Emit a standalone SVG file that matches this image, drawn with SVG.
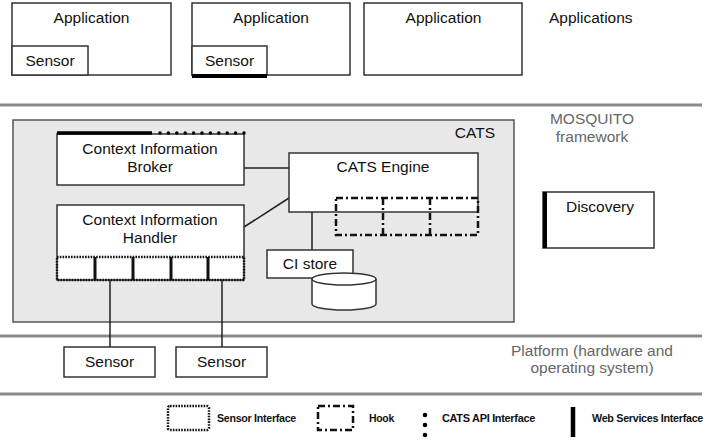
<svg xmlns="http://www.w3.org/2000/svg" width="707" height="442" viewBox="0 0 707 442">
<style>
text{font-family:"Liberation Sans",Arial,sans-serif;font-size:15.5px;fill:#111}
.box{fill:#fff;stroke:#333;stroke-width:1.5}
.sep{stroke:#8a8a8a;stroke-width:3}
.gray{fill:#666}
.mid{text-anchor:middle}
.leg{font-size:11px;font-weight:bold;letter-spacing:-0.3px}
.hook{fill:none;stroke:#111;stroke-width:2.5;stroke-dasharray:7,3,2,3}
.sif{fill:none;stroke:#111;stroke-width:2.5;stroke-dasharray:1.6,1.2}
.conn{stroke:#222;stroke-width:1.5;fill:none}
</style>
<rect width="707" height="442" fill="#fff"/>
<!-- layer separators -->
<line class="sep" x1="0" y1="105" x2="702" y2="105"/>
<line class="sep" x1="0" y1="336" x2="702" y2="336"/>
<line class="sep" x1="0" y1="394" x2="702" y2="394"/>
<text x="549" y="23" fill="#222">Applications</text>
<text class="gray mid" x="592" y="124">MOSQUITO</text>
<text class="gray mid" x="592" y="142">framework</text>
<text class="gray mid" x="592" y="356">Platform (hardware and</text>
<text class="gray mid" x="592" y="373">operating system)</text>

<g id="app1">
<rect class="box" x="12" y="3" width="159" height="72"/>
<text class="mid" x="91.5" y="23">Application</text>
<rect class="box" x="12" y="46" width="76" height="29"/>
<text class="mid" x="50" y="66">Sensor</text>
</g>
<g id="app2">
<rect class="box" x="192" y="3" width="158" height="72"/>
<text class="mid" x="271" y="23">Application</text>
<rect class="box" x="192" y="46" width="75" height="29"/>
<line x1="192" y1="76" x2="267" y2="76" stroke="#000" stroke-width="4"/>
<text class="mid" x="229.5" y="66">Sensor</text>
</g>
<g id="app3">
<rect class="box" x="364" y="3" width="158" height="72"/>
<text class="mid" x="443.5" y="23">Application</text>
</g>

<g id="cats">
<rect x="13" y="120" width="501" height="202" fill="#e8e8e8" stroke="#555" stroke-width="1.5"/>
<text x="495" y="138" text-anchor="end">CATS</text>
</g>

<g id="connectors">
<line class="conn" x1="244" y1="168" x2="289" y2="168"/>
<line class="conn" x1="244" y1="227" x2="289" y2="198"/>
<line class="conn" x1="312" y1="212" x2="312" y2="250"/>
<line class="conn" x1="110" y1="280" x2="110" y2="347"/>
<line class="conn" x1="222" y1="280" x2="222" y2="347"/>
</g>

<g id="broker">
<rect class="box" x="57" y="134" width="187" height="51"/>
<line x1="57" y1="133" x2="152" y2="133" stroke="#000" stroke-width="3.5"/>
<line x1="160" y1="133" x2="244" y2="133" stroke="#000" stroke-width="3.5" stroke-linecap="round" stroke-dasharray="0,8.4"/>
<text class="mid" x="150" y="154">Context Information</text>
<text class="mid" x="150" y="172">Broker</text>
</g>

<g id="handler">
<rect class="box" x="57" y="205" width="187" height="75"/>
<text class="mid" x="150" y="225">Context Information</text>
<text class="mid" x="150" y="243">Handler</text>
<rect x="57" y="257" width="187" height="23" fill="#fff" class="sif"/>
<g stroke="#111" stroke-width="3">
<line x1="95" y1="257" x2="95" y2="280"/>
<line x1="133" y1="257" x2="133" y2="280"/>
<line x1="171" y1="257" x2="171" y2="280"/>
<line x1="208" y1="257" x2="208" y2="280"/>
</g>
</g>

<g id="engine">
<rect class="box" x="289" y="153" width="189" height="59"/>
<text class="mid" x="383" y="172">CATS Engine</text>
<rect class="hook" x="336" y="198" width="142" height="37"/>
<line class="hook" x1="383" y1="198" x2="383" y2="235"/>
<line class="hook" x1="430" y1="198" x2="430" y2="235"/>
</g>

<g id="cistore">
<rect class="box" x="267" y="250" width="86" height="28"/>
<text class="mid" x="310" y="269">CI store</text>
</g>

<g id="db">
<path d="M312,279 L312,304 A32,6 0 0 0 376,304 L376,279" fill="#fff" stroke="#333" stroke-width="1.5"/>
<ellipse cx="344" cy="279" rx="32" ry="6" fill="#fff" stroke="#333" stroke-width="1.5"/>
</g>

<g id="discovery">
<rect class="box" x="543" y="192" width="111" height="56"/>
<line x1="545" y1="192" x2="545" y2="248" stroke="#000" stroke-width="4"/>
<text class="mid" x="600" y="212">Discovery</text>
</g>

<g id="sensor1">
<rect class="box" x="64" y="347" width="91" height="30"/>
<text class="mid" x="109.5" y="367">Sensor</text>
</g>
<g id="sensor2">
<rect class="box" x="176" y="347" width="91" height="30"/>
<text class="mid" x="221.5" y="367">Sensor</text>
</g>

<g id="legend">
<rect x="168" y="406" width="41" height="24" rx="2" class="sif"/>
<text class="leg" x="217" y="422" textLength="79" lengthAdjust="spacingAndGlyphs">Sensor Interface</text>
<rect x="318" y="406" width="35" height="24" class="hook" stroke-width="3"/>
<text class="leg" x="369" y="422" textLength="25" lengthAdjust="spacingAndGlyphs">Hook</text>
<g fill="#000">
<circle cx="425" cy="415" r="2.3"/>
<circle cx="425" cy="425" r="2.3"/>
<circle cx="425" cy="435" r="2.3"/>
</g>
<text class="leg" x="442" y="422" textLength="93" lengthAdjust="spacingAndGlyphs">CATS API Interface</text>
<line x1="573" y1="407" x2="573" y2="437" stroke="#000" stroke-width="4.5"/>
<text class="leg" x="592" y="422" textLength="111" lengthAdjust="spacingAndGlyphs">Web Services Interface</text>
</g>
</svg>
